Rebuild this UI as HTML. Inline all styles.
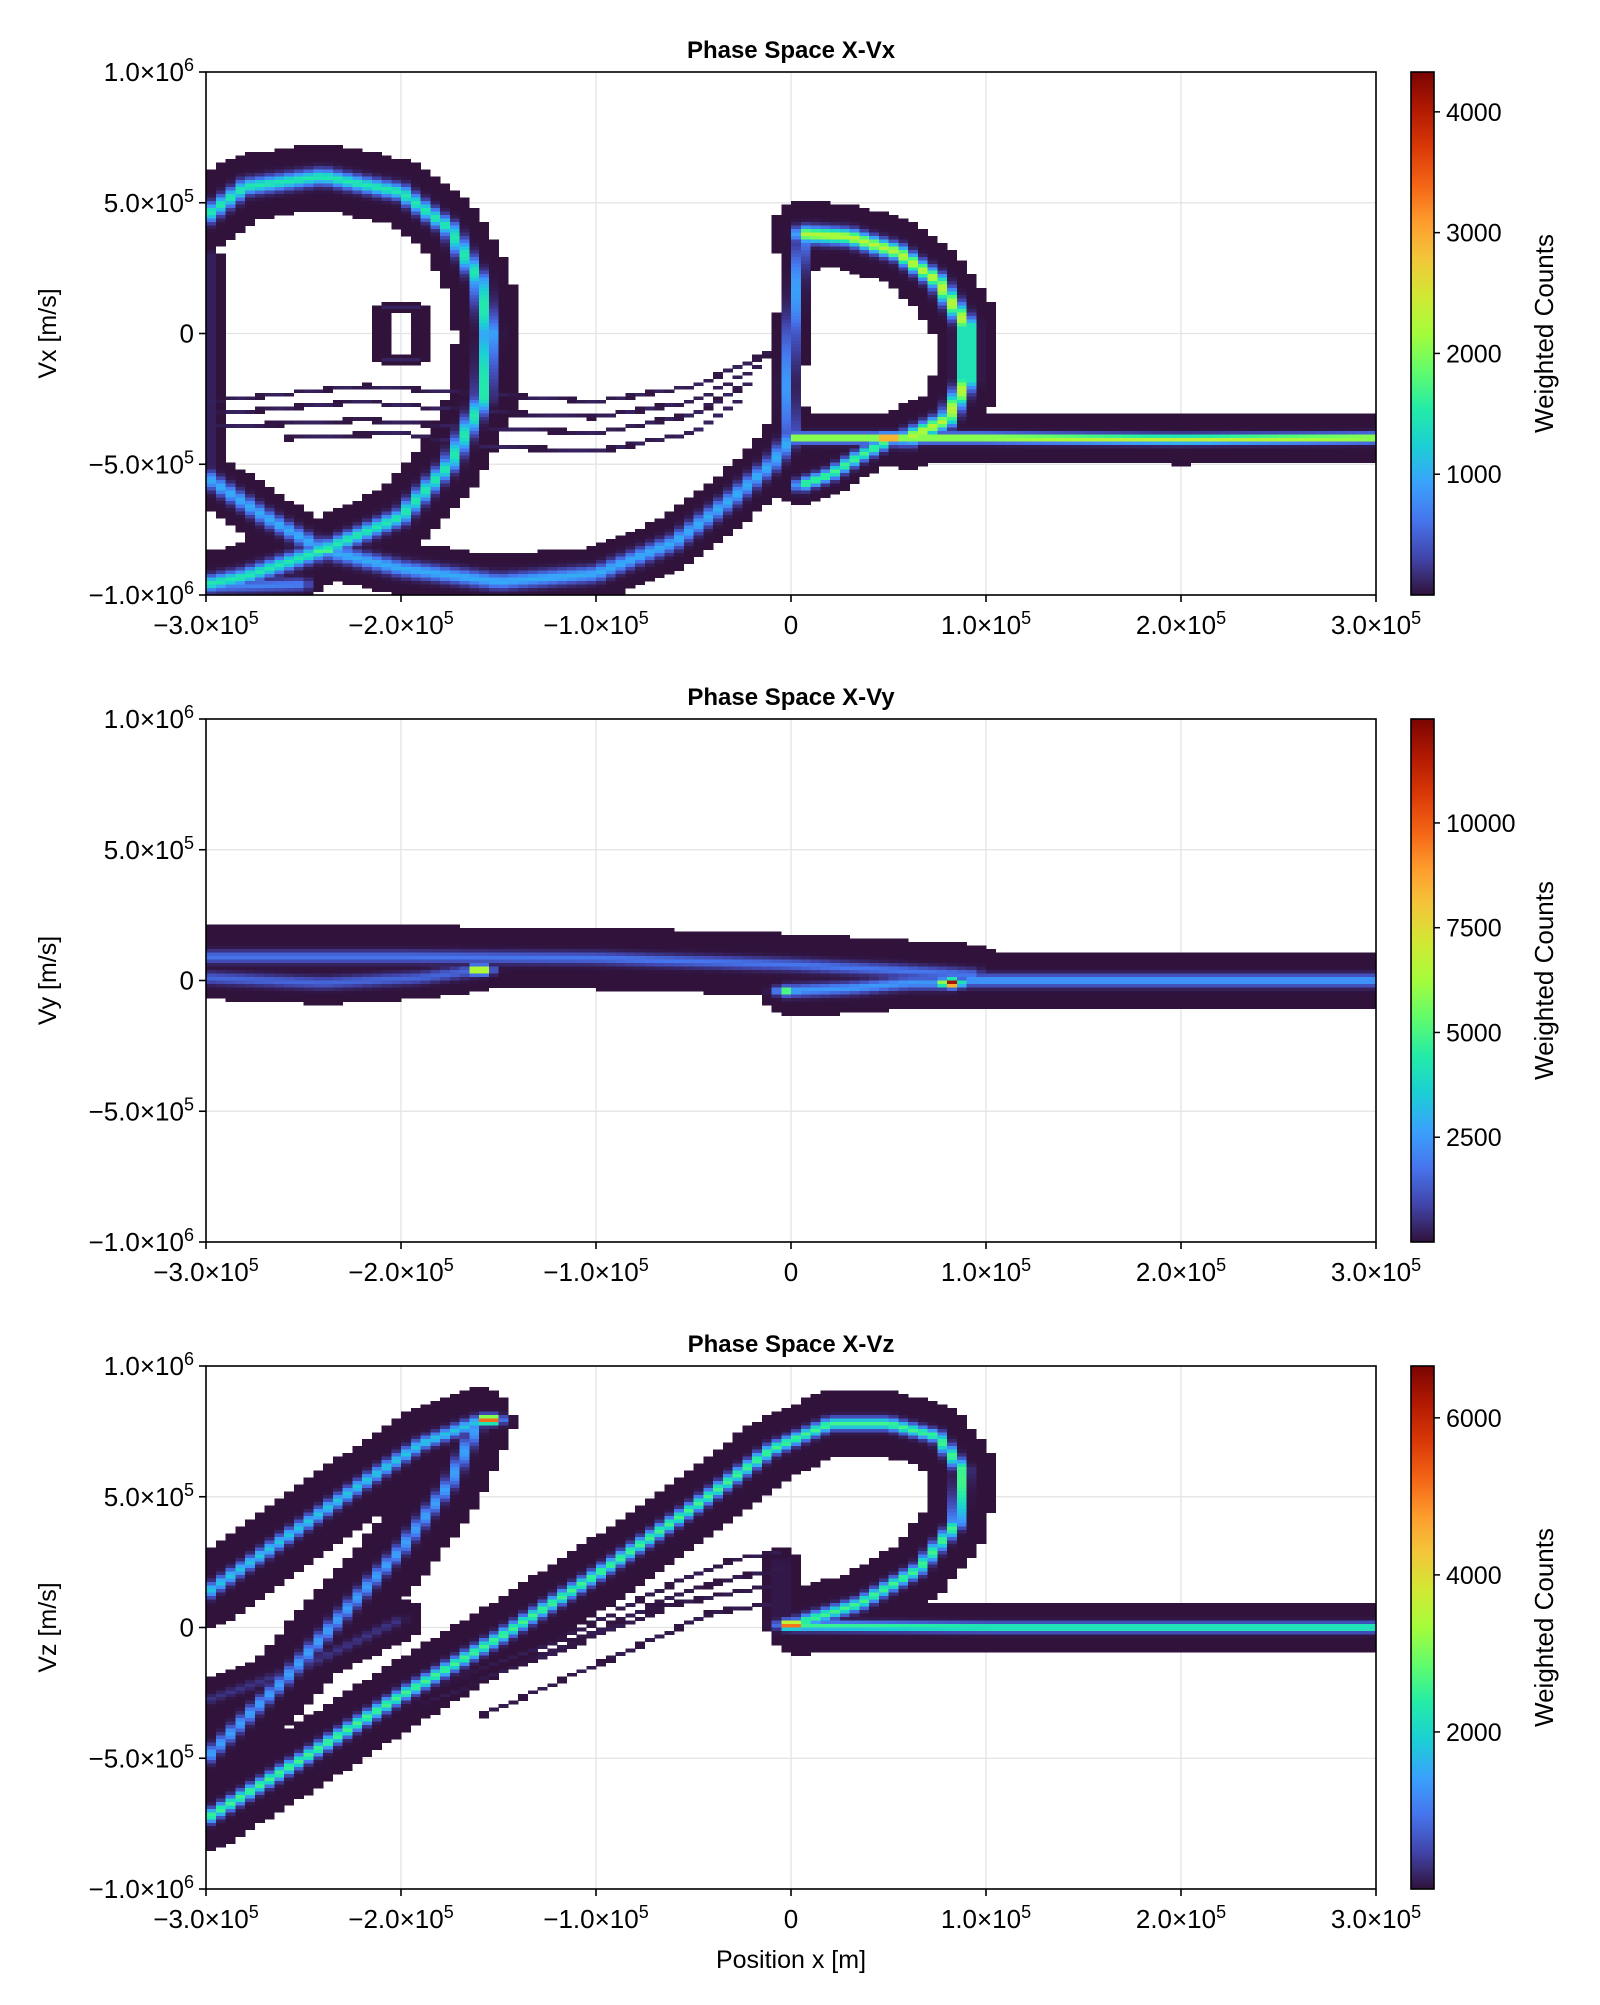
<!DOCTYPE html>
<html><head><meta charset="utf-8"><title>Phase Space</title>
<style>
body{margin:0;background:#fff;}
svg text{font-family:"Liberation Sans",Arial,sans-serif;fill:#000;}
</style></head>
<body>
<svg id="fig" width="1600" height="2000" viewBox="0 0 1600 2000" xmlns="http://www.w3.org/2000/svg">
<defs>
<linearGradient id="turbo" x1="0" y1="1" x2="0" y2="0"></linearGradient>
</defs>
</svg>
<script>
// ---- data arrays (x, v in units of 1e5) ----
const xTickValues = [-3, -2, -1, 0, 1, 2, 3];
const xTickMant = ["\u22123.0","\u22122.0","\u22121.0","0","1.0","2.0","3.0"];
const xTickExp = ["5","5","5","","5","5","5"];
const yTickValues = [-10, -5, 0, 5, 10];
const yTickMant = ["\u22121.0","\u22125.0","0","5.0","1.0"];
const yTickExp = ["6","5","","5","6"];
const panelTitles = ["Phase Space X-Vx","Phase Space X-Vy","Phase Space X-Vz"];
const panelYLabels = ["Vx [m/s]","Vy [m/s]","Vz [m/s]"];
const cbarMax = [4330, 12480, 6660];
const cbarTicks1 = [1000, 2000, 3000, 4000];
const cbarTicks2 = [2500, 5000, 7500, 10000];
const cbarTicks3 = [2000, 4000, 6000];
// curves: points, peak count, core sigma(px), envelope(px)
const curvesVx = [
 {pts:[[-3,4.5],[-2.8,5.6],[-2.4,6.0],[-2.0,5.4],[-1.75,4],[-1.6,2],[-1.55,0],[-1.58,-2.5],[-1.75,-5],[-2.0,-7],[-2.4,-8.3],[-2.8,-9.3],[-3,-9.6]],peak:1500,sig:5,env:30},
 {pts:[[-3,-5.5],[-2.7,-7],[-2.4,-8.3],[-2.0,-9.0],[-1.5,-9.5],[-1.0,-9.2],[-0.6,-8.0],[-0.3,-6.3],[-0.1,-5.0],[0,-4.0]],peak:1000,sig:5,env:24},
 {pts:[[-3,-9.7],[-2.5,-9.6]],peak:700,sig:4,env:14},
 {pts:[[-3,3],[-3,-5]],peak:300,sig:3,env:12},
 {pts:[[0,-4],[-0.02,-2],[0,0],[0.03,2],[0.06,3.6]],peak:900,sig:4,env:14},
 {pts:[[0.06,3.8],[0.3,3.7],[0.55,3.1],[0.75,2.0],[0.9,0.3],[0.9,-1.8],[0.8,-3.3],[0.6,-4.0]],peak:2300,sig:5,env:30},
 {pts:[[0.05,-5.8],[0.2,-5.4],[0.35,-4.7],[0.5,-4.1]],peak:1700,sig:4,env:18},
 {pts:[[0,-4],[1,-4],[2,-4.05],[3,-4]],peak:2400,sig:3,env:22},
 {pts:[[-3,-2.6],[-2.2,-2.0],[-1.6,-2.3],[-1.0,-2.6],[-0.5,-2.0],[-0.1,-0.7]],peak:100,sig:1,env:0},
 {pts:[[-3,-3.1],[-2.2,-2.6],[-1.6,-3.0],[-1.0,-3.2],[-0.5,-2.6],[-0.15,-1.2]],peak:100,sig:1,env:0},
 {pts:[[-3,-3.6],[-2.2,-3.3],[-1.6,-3.6],[-1.0,-3.8],[-0.5,-3.1],[-0.2,-1.8]],peak:100,sig:1,env:0},
 {pts:[[-2.6,-4.0],[-2.0,-3.8],[-1.6,-4.3],[-1.0,-4.5],[-0.5,-3.8],[-0.25,-2.5]],peak:100,sig:1,env:0},
 {pts:[[-2.1,1.0],[-1.9,1.0],[-1.9,-1.0],[-2.1,-1.0],[-2.1,1.0]],peak:100,sig:1,env:2}
];
const hotVx = [[0.5,-4.0,4300],[-2.4,-8.3,2200]];
const curvesVy = [
 {pts:[[-3,0.9],[-2,0.9],[-1,0.85],[0,0.6],[0.5,0.4],[0.95,0.2]],peak:1800,sig:4,env:28},
 {pts:[[-3,0.1],[-2.4,-0.1],[-1.9,0.1],[-1.6,0.4]],peak:1500,sig:4,env:18},
 {pts:[[-0.02,-0.4],[0.3,-0.3],[0.6,-0.1],[0.82,-0.1]],peak:2500,sig:4,env:22},
 {pts:[[0.9,0],[2,0],[3,0]],peak:2600,sig:4,env:24}
];
const hotVy = [[-1.6,0.4,9500],[0.82,-0.1,12400],[-0.02,-0.4,6000]];
const curvesVz = [
 {pts:[[-3,1.3],[-2.6,3.4],[-2.2,5.5],[-1.9,7.0],[-1.6,7.9]],peak:1800,sig:4,env:32},
 {pts:[[-1.6,7.9],[-1.75,5.5],[-2.0,3.0],[-2.3,0.5],[-2.6,-2.0],[-3,-5.0]],peak:1400,sig:4,env:32},
 {pts:[[-3,-7.3],[-2.5,-5],[-2,-2.6],[-1.5,-0.4],[-1,2.0],[-0.5,4.6],[-0.1,6.8],[0.2,7.8],[0.5,7.8],[0.75,7.3],[0.88,6.0],[0.85,4.0],[0.65,2.2],[0.35,0.9],[0.05,0.2]],peak:2600,sig:4,env:30},
 {pts:[[-0.05,2.5],[-0.05,0.5]],peak:200,sig:3,env:14},
 {pts:[[0,0.05],[1,0],[2,0],[3,0]],peak:2600,sig:3,env:22},
 {pts:[[-3,-2.8],[-2.5,-1.5],[-2,0.3]],peak:300,sig:3,env:18},
 {pts:[[-1.9,-3.0],[-1.2,-0.8],[-0.6,1.2],[-0.3,1.9],[-0.05,2.2]],peak:100,sig:1,env:0},
 {pts:[[-1.9,-2.5],[-1.2,-0.5],[-0.6,1.7],[-0.3,2.6],[-0.05,2.9]],peak:100,sig:1,env:0},
 {pts:[[-1.6,-3.4],[-0.9,-1.1],[-0.4,0.6],[-0.1,0.9]],peak:100,sig:1,env:0},
 {pts:[[-1.3,-1.2],[-0.6,0.9],[-0.1,1.6]],peak:100,sig:1,env:0}
];
const hotVz = [[0,0.1,6600],[-1.55,7.95,6500]];

// ---- layout ----
const NS="http://www.w3.org/2000/svg";
const svg=document.getElementById('fig');
const PL=206, PR=1376;
const tops=[72,719,1366], PH=523;
const NX=120, NY=150;
function mk(tag,attrs,parent){const e=document.createElementNS(NS,tag);for(const k in attrs)e.setAttribute(k,attrs[k]);(parent||svg).appendChild(e);return e;}
const LUT=[[48,18,59],[65,69,171],[70,117,237],[57,162,252],[27,207,212],[36,236,166],[97,252,108],[164,252,59],[209,232,52],[243,198,58],[254,155,45],[243,99,21],[217,56,6],[177,25,1],[122,4,3]];
function turbo(t){t=Math.max(0,Math.min(1,t));const f=t*(LUT.length-1);const i=Math.min(LUT.length-2,Math.floor(f));const u=f-i;
 const c=k=>Math.round(LUT[i][k]+(LUT[i+1][k]-LUT[i][k])*u);return `rgb(${c(0)},${c(1)},${c(2)})`;}
const grad=document.getElementById('turbo');
for(let i=0;i<=28;i++){const s=document.createElementNS(NS,'stop');s.setAttribute('offset',(i/28));s.setAttribute('stop-color',turbo(i/28));grad.appendChild(s);}

function segDist(px,py,ax,ay,bx,by){const dx=bx-ax,dy=by-ay;const L=dx*dx+dy*dy;let t=L?((px-ax)*dx+(py-ay)*dy)/L:0;t=Math.max(0,Math.min(1,t));const qx=ax+t*dx-px,qy=ay+t*dy-py;return Math.sqrt(qx*qx+qy*qy);}
function label(parent,x,y,mant,exp,size,anchor){
 const t=mk('text',{x:x,y:y,'font-size':size,'text-anchor':anchor},parent);
 if(exp){t.appendChild(document.createTextNode(mant+"\u00d710"));const s=mk('tspan',{dy:-10,'font-size':Math.round(size*0.68)},t);s.textContent=exp;}
 else t.textContent=mant;
 return t;}

const panels=[[curvesVx,hotVx,cbarTicks1],[curvesVy,hotVy,cbarTicks2],[curvesVz,hotVz,cbarTicks3]];
panels.forEach((pd,pi)=>{
 const [curves,hots,cticks]=pd;
 const top=tops[pi], bot=top+PH;
 const sx=x=>PL+(x+3)/6*(PR-PL);
 const sy=v=>top+(10-v)/20*PH;
 const g=mk('g',{},svg);
 
 
 xTickValues.forEach(v=>{const l=mk('line',{x1:sx(v),x2:sx(v),y1:top,y2:bot,stroke:'#e3e3e3','stroke-width':1.3},g);});
 yTickValues.forEach(v=>{const l=mk('line',{x1:PL,x2:PR,y1:sy(v),y2:sy(v),stroke:'#e3e3e3','stroke-width':1.3},g);});
 const hm=mk('g',{'shape-rendering':'crispEdges'},g);
 
 
 const cw=(PR-PL)/NX, ch=PH/NY;
 const vmax=cbarMax[pi];
 for(let i=0;i<NX;i++){for(let j=0;j<NY;j++){
  const cx=PL+(i+0.5)*cw, cy=top+(j+0.5)*ch;
  let val=0, inside=false;
  curves.forEach(c=>{let d=1e9;for(let k=0;k<c.pts.length-1;k++){d=Math.min(d,segDist(cx,cy,sx(c.pts[k][0]),sy(c.pts[k][1]),sx(c.pts[k+1][0]),sy(c.pts[k+1][1])));}
   const thr=c.env>0?c.env+cw*0.3:ch*0.6;
   if(d<=thr){inside=true;val=Math.max(val,c.peak*Math.exp(-d*d/(2*c.sig*c.sig)));}});
  hots.forEach(h=>{const dx=cx-sx(h[0]),dy=cy-sy(h[1]);const d2=dx*dx/6+dy*dy;if(d2<120){val=Math.max(val,h[2]*Math.exp(-d2/(2*9)));}});
  if(!inside)continue;
  mk('rect',{x:(PL+i*cw).toFixed(2),y:(top+j*ch).toFixed(2),width:(cw+0.4).toFixed(2),height:(ch+0.4).toFixed(2),fill:turbo(val/vmax)},hm);
 }}
 const fr=mk('rect',{x:PL,y:top,width:PR-PL,height:PH,fill:'none',stroke:'#000','stroke-width':1.6},g);
 
 xTickValues.forEach((v,k)=>{mk('line',{x1:sx(v),x2:sx(v),y1:bot,y2:bot+7,stroke:'#000','stroke-width':1.6},g);
  const t=label(g,sx(v),bot+39,xTickMant[k],xTickExp[k],26,'middle');
  });
 yTickValues.forEach((v,k)=>{mk('line',{x1:PL-7,x2:PL,y1:sy(v),y2:sy(v),stroke:'#000','stroke-width':1.6},g);
  const t=label(g,PL-12,sy(v)+9,yTickMant[k],yTickExp[k],26,'end');
  });
 const tt=mk('text',{x:(PL+PR)/2,y:top-14,'font-size':24,'font-weight':'bold','text-anchor':'middle'},g);tt.textContent=panelTitles[pi];
 
 const yl=mk('text',{x:0,y:0,'font-size':25,'text-anchor':'middle',transform:`translate(56,${top+PH/2}) rotate(-90)`},g);yl.textContent=panelYLabels[pi];
 
 const cb=mk('rect',{x:1411,y:top,width:23,height:PH,fill:'url(#turbo)',stroke:'#000','stroke-width':1.6},g);
 
 const cy=v=>bot-v/vmax*PH;
 cticks.forEach(v=>{mk('line',{x1:1434,x2:1440,y1:cy(v),y2:cy(v),stroke:'#000','stroke-width':1.5},g);
  const t=mk('text',{x:1446,y:cy(v)+9,'font-size':25},g);t.textContent=String(v);
  });
 const cl=mk('text',{x:0,y:0,'font-size':26,'text-anchor':'middle',transform:`translate(1553,${top+PH/2}) rotate(-90)`},g);cl.textContent='Weighted Counts';
 
});
const xl=mk('text',{x:(PL+PR)/2,y:1968,'font-size':25,'text-anchor':'middle'});xl.textContent='Position x [m]';


</script>
</body></html>
